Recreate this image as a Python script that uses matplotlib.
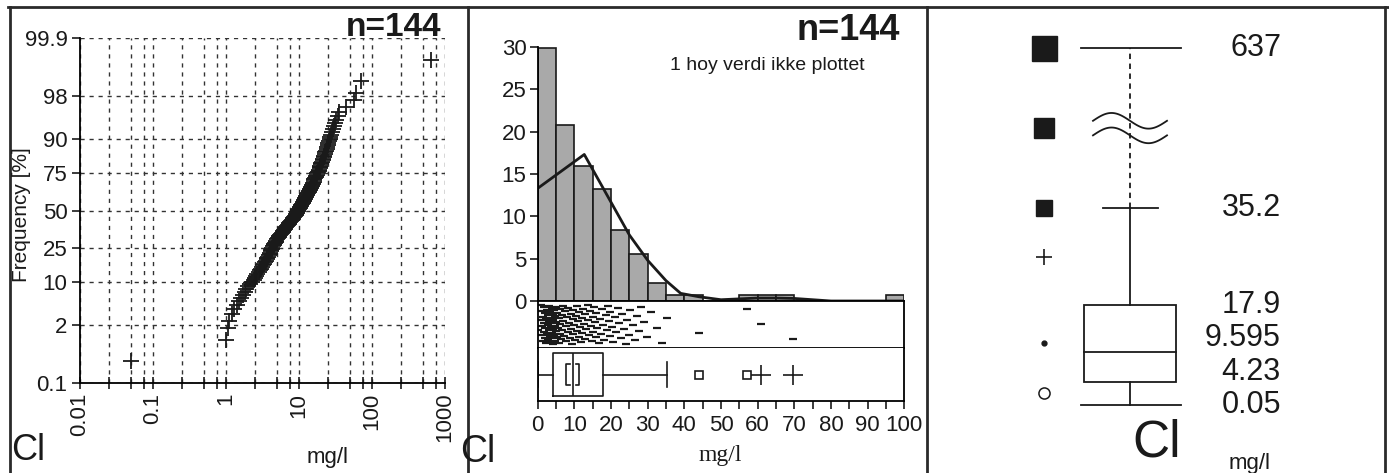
import statistics
import numpy as np
import matplotlib
matplotlib.use('Agg')
import matplotlib.pyplot as plt
from matplotlib.lines import Line2D
from matplotlib.patches import Rectangle
from matplotlib.ticker import FixedLocator, NullFormatter

# Cl concentrations (mg/l), 144 samples, sorted
cl_values = [
    0.05, 1.0, 1.05, 1.1, 1.2, 1.3, 1.4, 1.5, 1.6, 1.7, 1.8, 1.9, 2.0, 2.1, 2.3,
    2.4, 2.5, 2.6, 2.7, 2.8, 2.9, 3.0, 3.1, 3.2, 3.3, 3.4, 3.5, 3.6, 3.7, 3.8,
    3.9, 4.0, 4.05, 4.1, 4.2, 4.22, 4.3, 4.4, 4.5, 4.6, 4.7, 4.8, 4.9,
    5.0, 5.1, 5.3, 5.4, 5.5, 5.7, 5.8, 6.0, 6.1, 6.2, 6.4, 6.5, 6.7, 6.8, 7.0,
    7.2, 7.4, 7.6, 7.8, 8.0, 8.2, 8.4, 8.6, 8.8, 9.0, 9.2, 9.3, 9.5, 9.59, 9.6,
    10.0, 10.2, 10.4, 10.6, 10.8, 11.0, 11.2, 11.4, 11.6, 11.8, 12.0, 12.2, 12.4,
    12.6, 12.8, 13.0, 13.3, 13.6, 13.8, 14.0, 14.3, 14.6, 14.8,
    15.0, 15.2, 15.4, 15.6, 15.8, 16.0, 16.3, 16.6, 16.9, 17.2, 17.5, 17.9, 18.2,
    18.5, 18.8, 19.1, 19.4, 19.6, 19.8,
    20.2, 20.6, 21.0, 21.4, 21.8, 22.2, 22.6, 23.0, 23.5, 24.0, 24.4, 24.8,
    25.3, 25.9, 26.5, 27.0, 27.6, 28.3, 29.0, 29.7,
    31.0, 32.5, 34.0, 35.2, 44.0, 57.0, 61.0, 69.6, 637.0,
]

# summary statistics for the boxplots
cl_min = 0.05
cl_q1 = 4.23
cl_median = 9.595
cl_q3 = 17.9
cl_upper_whisker = 35.2
cl_max = 637

# density trace drawn over the histogram (%)
density_x = [0, 12.7, 25, 30, 35, 39, 44, 50, 55, 60, 65, 70, 75, 80, 100]
density_y = [13.3, 17.3, 7.8, 4.8, 2.4, 0.9, 0.5, 0.15, 0.25, 0.35, 0.35, 0.3, 0.15, 0.0, 0.0]

prob_ticks = [0.1, 2, 10, 25, 50, 75, 90, 98, 99.9]
prob_labels = ['0.1', '2', '10', '25', '50', '75', '90', '98', '99.9']
conc_ticks = [0.01, 0.1, 1, 10, 100, 1000]
conc_labels = ['0.01', '0.1', '1', '10', '100', '1000']
hist_ticks = [0, 5, 10, 15, 20, 25, 30]

# narrow face first, whichever of these is installed gets used
plt.rcParams['font.family'] = ['Liberation Sans Narrow', 'DejaVu Sans Condensed',
                               'Liberation Sans', 'DejaVu Sans']
plt.rcParams['axes.linewidth'] = 1.3

W, H = 1389, 473
fig = plt.figure(figsize=(W / 100, H / 100), dpi=100)


def px_box(x0, y0, x1, y1):
    # pixel box (top-left origin) -> figure fraction rect
    return [x0 / W, 1 - y1 / H, (x1 - x0) / W, (y1 - y0) / H]


def px_text(x, y, s, **kw):
    fig.text(x / W, 1 - y / H, s, ha='center', va='center', **kw)


n = len(cl_values)
ink = '#1a1a1a'

# ---- probability plot ----
z = statistics.NormalDist().inv_cdf
ax1 = fig.add_axes(px_box(80, 38, 445, 383))
pp = [z((i + 0.5) / n) for i in range(n)]
ax1.plot(sorted(cl_values), pp, '+', color=ink, ms=11, mew=1.3)
ax1.set_xscale('log')
ax1.set_xlim(0.01, 1000)
ax1.set_ylim(z(0.001), z(0.999))
ax1.set_xticks(conc_ticks, conc_labels, rotation=90)
minor = [m * 10.0 ** e for e in range(-2, 3) for m in (2.5, 5, 7.5)]
ax1.xaxis.set_minor_locator(FixedLocator(minor))
ax1.xaxis.set_minor_formatter(NullFormatter())
ax1.set_yticks([z(p / 100) for p in prob_ticks], prob_labels)
ax1.grid(True, which='both', axis='x', ls=(0, (3, 3.5)), color='#333', lw=1.0)
ax1.grid(True, which='major', axis='y', ls=(0, (3, 3.5)), color='#333', lw=1.0)
ax1.spines[['top', 'right']].set_visible(False)
ax1.tick_params(axis='x', which='both', direction='inout', length=8, width=1.2,
                labelsize=16, pad=3, colors=ink)
ax1.tick_params(axis='y', direction='out', length=6, width=1.2, labelsize=16,
                pad=3, colors=ink)
px_text(22, 215, 'Frequency [%]', rotation=90, fontsize=15, color=ink)
px_text(393, 27, 'n=144', fontsize=24, fontweight='bold', color=ink)
px_text(28, 450, 'Cl', fontsize=26, color=ink)
px_text(328, 457, 'mg/l', fontsize=16, color=ink)

# ---- histogram with density trace ----
ax_h = fig.add_axes(px_box(537.7, 40, 904.3, 301))
edges = np.arange(0, 105, 5)
counts, _ = np.histogram(np.clip(cl_values, 0, 99.9), bins=edges)
pct = counts / n * 100
ax_h.bar(edges[:-1], pct, width=5, align='edge', color='#a9a9a9',
         edgecolor=ink, lw=1.2)
ax_h.plot(density_x, density_y, color=ink, lw=2)
ax_h.set_xlim(0, 100)
ax_h.set_ylim(0, (301 - 40) / 8.47)
ax_h.spines[['top', 'right', 'bottom']].set_visible(False)
ax_h.spines['left'].set_bounds(0, 30)
ax_h.set_xticks([])
ax_h.set_yticks(hist_ticks)
ax_h.tick_params(axis='y', direction='out', length=6, width=1.2, labelsize=16,
                 pad=2, colors=ink)
ax_h.patch.set_alpha(0)

# one-dimensional scatter strip
ax_s = fig.add_axes(px_box(537.7, 301, 904.3, 348))
shown = [v for v in cl_values if v < 100]
jitter = [0.08 + 0.84 * ((0.37 + i * 0.618034) % 1) for i in range(len(shown))]
ax_s.plot(shown, jitter, '_', color=ink, ms=6, mew=1.6)
ax_s.set_xlim(0, 100)
ax_s.set_ylim(0, 1)
ax_s.set_xticks([])
ax_s.set_yticks([])

# horizontal boxplot strip
ax_b = fig.add_axes(px_box(537.7, 348, 904.3, 401))
stats = [{'med': cl_median, 'q1': cl_q1, 'q3': cl_q3,
          'whislo': cl_min, 'whishi': cl_upper_whisker, 'fliers': []}]
ax_b.bxp(stats, positions=[0.5], widths=0.8, capwidths=0.46,
         orientation='horizontal', showfliers=False,
         boxprops=dict(color=ink, lw=1.2), medianprops=dict(color=ink, lw=1.2),
         whiskerprops=dict(color=ink, lw=1.2), capprops=dict(color=ink, lw=1.2))
iqr = cl_q3 - cl_q1
inner, outer = cl_q3 + 1.5 * iqr, cl_q3 + 3 * iqr
mild = [v for v in cl_values if inner < v <= outer]
far = [v for v in cl_values if v > outer]
ax_b.plot(mild, [0.5] * len(mild), 's', mfc='none', mec=ink, ms=6, mew=1.2)
ax_b.plot(far, [0.5] * len(far), '+', color=ink, ms=14, mew=1.2)
# median confidence brackets
ci = 1.57 * iqr / np.sqrt(n)
for xb, side in ((cl_median - ci, 1), (cl_median + ci, -1)):
    ax_b.plot([xb + side * 0.9, xb, xb, xb + side * 0.9], [0.3, 0.3, 0.7, 0.7],
              color=ink, lw=1.2)
ax_b.set_xlim(0, 100)
ax_b.set_ylim(0, 1)
ax_b.spines['top'].set_visible(False)
ax_b.set_yticks([])
ax_b.set_xticks(np.arange(0, 101, 10))
ax_b.xaxis.set_minor_locator(FixedLocator(np.arange(5, 100, 10)))
ax_b.tick_params(axis='x', which='both', direction='out', length=6, width=1.2,
                 labelsize=16, pad=4, colors=ink)
px_text(848, 30, 'n=144', fontsize=26, fontweight='bold', color=ink)
px_text(767, 66, '1 hoy verdi ikke plottet', fontsize=14, color=ink)
px_text(478, 452, 'Cl', fontsize=27, color=ink)
px_text(720, 455, 'mg/l', fontsize=17, color=ink, family='Liberation Serif')

# ---- summary boxplot with broken upper whisker ----
ax3 = fig.add_axes(px_box(927, 7, 1385, 473))
ax3.set_xlim(927, 1385)
scale = 5.6
ax3.set_ylim(cl_min - (473 - 405) / scale, cl_min + (405 - 7) / scale)
ax3.axis('off')
break_span = 28.6
top_pos = cl_upper_whisker + break_span
mid_pos = cl_upper_whisker + break_span / 2
cx, half = 1130, 46
ax3.add_patch(Rectangle((cx - half, cl_q1), 2 * half, cl_q3 - cl_q1,
                        fill=False, ec=ink, lw=1.3))
ax3.plot([cx - half, cx + half], [cl_median] * 2, color=ink, lw=1.3)
ax3.plot([cx, cx], [cl_q3, cl_upper_whisker], color=ink, lw=1.3)
ax3.plot([cx, cx], [cl_min, cl_q1], color=ink, lw=1.3)
ax3.plot([cx, cx], [cl_upper_whisker, top_pos], color=ink, lw=1.3, ls=(0, (3, 2.5)))
ax3.plot([cx - 49, cx + 51], [cl_min] * 2, color=ink, lw=1.3)
ax3.plot([cx - 27, cx + 28], [cl_upper_whisker] * 2, color=ink, lw=1.3)
ax3.plot([cx - 49, cx + 51], [top_pos] * 2, color=ink, lw=1.3)
wx = np.linspace(cx - 37, cx + 37, 60)
for off in (1.3, -1.3):
    ax3.plot(wx, mid_pos + off + 1.4 * np.sin((wx - cx) / 37 * np.pi + np.pi),
             color=ink, lw=1.3)
sx = 1044
ax3.plot(sx, top_pos, 's', color=ink, ms=18)
ax3.plot(sx, mid_pos, 's', color=ink, ms=14)
ax3.plot(sx, cl_upper_whisker, 's', color=ink, ms=11)
ax3.plot(sx, (cl_upper_whisker + cl_q3) / 2, '+', color=ink, ms=11, mew=1.2)
ax3.plot(sx, (cl_q3 + cl_q1) / 2, 'o', color=ink, ms=3.5)
ax3.plot(sx, (cl_q1 + cl_min) / 2, 'o', mfc='none', mec=ink, ms=8, mew=1.1)
ax3.text(1281, top_pos, f'{cl_max:g}', ha='right', va='center', fontsize=22, color=ink)
ax3.text(1281, cl_upper_whisker, f'{cl_upper_whisker:g}', ha='right', va='center',
         fontsize=22, color=ink)
for yl, v in zip(np.linspace(cl_q3, cl_min, 4), [cl_q3, cl_median, cl_q1, cl_min]):
    ax3.text(1281, yl, f'{v:g}', ha='right', va='center', fontsize=22, color=ink)
px_text(1157, 443, 'Cl', fontsize=37, color=ink)
px_text(1250, 463, 'mg/l', fontsize=16, color=ink)

# panel frame
frame = dict(color='#2a2a2a', lw=2, transform=fig.transFigure)
fig.add_artist(Line2D([8 / W, 1], [1 - 7 / H] * 2, **frame))
for xv in (10, 468, 927, 1385):
    fig.add_artist(Line2D([xv / W] * 2, [0, 1 - 7 / H], **frame))

fig.savefig('out.png', dpi=100, facecolor='white')
